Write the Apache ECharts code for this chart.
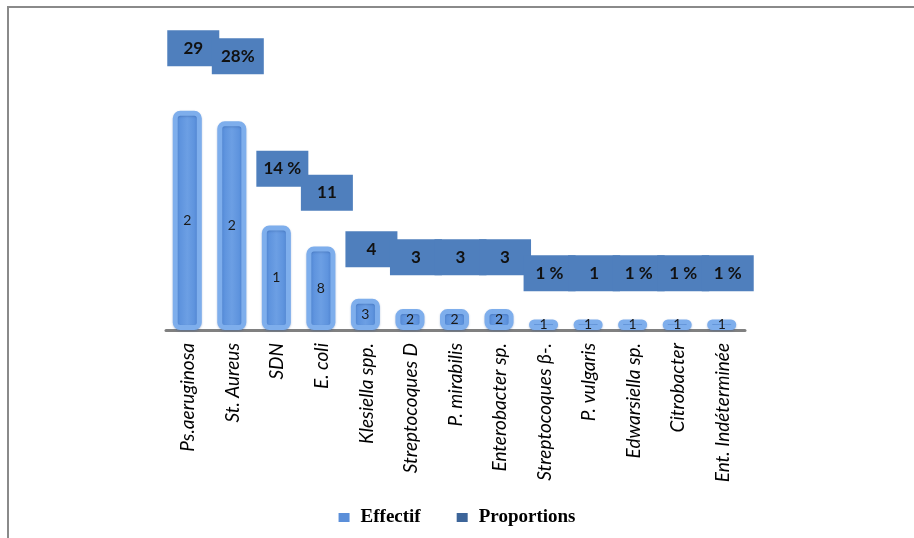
<!DOCTYPE html>
<html>
<head>
<meta charset="utf-8">
<script src="https://cdn.jsdelivr.net/npm/echarts@6/dist/echarts.min.js"></script>
<style>
  html, body { margin: 0; padding: 0; background: #ffffff; }
  #wrap { position: relative; width: 914px; height: 538px; overflow: hidden; }
  #frame { position: absolute; left: 7px; top: 6px; width: 920px; height: 540px;
           border-top: 2px solid #8a8a8a; border-left: 2px solid #8a8a8a; }
  #chart { position: absolute; left: 0; top: 0; width: 914px; height: 538px; }
</style>
</head>
<body>
<div id="wrap">
  <div id="frame"></div>
  <div id="chart"></div>
</div>
<script>
const categories = ['Ps.aeruginosa', 'St. Aureus', 'SDN', 'E. coli', 'Klesiella spp.', 'Streptocoques D',
  'P. mirabilis', 'Enterobacter sp.', 'Streptocoques β-.', 'P. vulgaris', 'Edwarsiella sp.', 'Citrobacter',
  'Ent. Indéterminée'];
const effectif = [21, 20, 10, 8, 3, 2, 2, 2, 1, 1, 1, 1, 1];
const effectifLabels = ['2', '2', '1', '8', '3', '2', '2', '2', '1', '1', '1', '1', '1'];
const proportions = [29, 28, 14, 11, 4, 3, 3, 3, 1, 1, 1, 1, 1];
const proportionLabels = ['29', '28%', '14 %', '11', '4', '3', '3', '3', '1 %', '1', '1 %', '1 %', '1 %'];

const chart = echarts.init(document.getElementById('chart'), null, { renderer: 'canvas' });

const barFill = new echarts.graphic.LinearGradient(0, 0, 1, 0, [
  { offset: 0, color: '#3f76cb' },
  { offset: 0.18, color: '#5a90dc' },
  { offset: 0.5, color: '#6c9fe4' },
  { offset: 0.82, color: '#5a90dc' },
  { offset: 1, color: '#3f76cb' }
]);

chart.setOption({
  animation: false,
  grid: { left: 166, width: 579, top: 20, bottom: 208, containLabel: false },
  legend: {
    bottom: 6,
    left: 'center',
    icon: 'rect',
    itemWidth: 11,
    itemHeight: 9,
    itemGap: 36,
    textStyle: { fontFamily: 'Liberation Serif', fontWeight: 'bold', fontSize: 19, color: '#000', padding: [0, 0, 0, 6] },
    data: [
      { name: 'Effectif', itemStyle: { color: '#5b8fd9', borderWidth: 0, shadowBlur: 0 } },
      { name: 'Proportions', itemStyle: { color: '#3d6599', borderWidth: 0 } }
    ]
  },
  xAxis: {
    type: 'category',
    data: categories,
    axisTick: { show: false },
    axisLine: { lineStyle: { color: '#808080', width: 3 } },
    axisLabel: {
      interval: 0,
      rotate: 90,
      margin: 13,
      fontFamily: 'Lato',
      fontStyle: 'italic',
      fontSize: 19,
      color: '#000'
    }
  },
  yAxis: [
    { type: 'value', min: 0, max: 29.7, show: false, splitLine: { show: false } },
    { type: 'value', min: -3.82, max: 34.74, show: false, splitLine: { show: false } }
  ],
  series: [
    {
      name: 'Effectif',
      type: 'bar',
      yAxisIndex: 0,
      barWidth: 29,
      barGap: '-100%',
      data: effectif,
      itemStyle: {
        color: barFill,
        borderColor: '#7eaeec',
        borderWidth: 5,
        borderRadius: 5,
        shadowColor: 'rgba(40,80,150,0.35)',
        shadowBlur: 2,
        shadowOffsetY: 1
      },
      label: {
        show: true,
        position: 'inside',
        color: '#1a1a1a',
        fontFamily: 'Lato',
        fontSize: 14,
        formatter: p => effectifLabels[p.dataIndex]
      }
    },
    {
      name: 'Proportions',
      type: 'bar',
      yAxisIndex: 1,
      barWidth: 31,
      barGap: '-100%',
      data: proportions,
      itemStyle: { color: 'rgba(0,0,0,0)' },
      label: {
        show: true,
        position: 'top',
        distance: 0,
        offset: [5, 0],
        width: 52,
        height: 36,
        lineHeight: 36,
        align: 'center',
        backgroundColor: '#4f7fbd',
        color: '#111',
        fontFamily: 'Lato',
        fontWeight: 'bold',
        fontSize: 17,
        formatter: p => proportionLabels[p.dataIndex]
      }
    }
  ]
});
</script>
</body>
</html>
